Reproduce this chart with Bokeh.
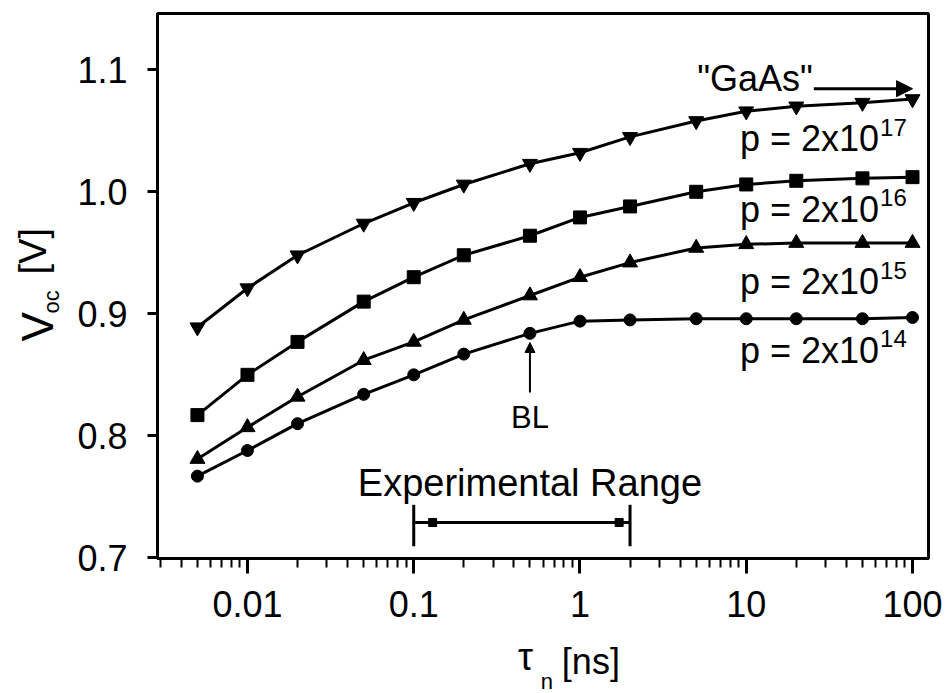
import math
from bokeh.plotting import figure
from bokeh.layouts import row, column
from bokeh.models import Range1d, FixedTicker, Label, Arrow, NormalHead
from bokeh.embed import file_html
from bokeh.resources import INLINE

# ---------------- data ----------------
tau_ns = [0.005, 0.01, 0.02, 0.05, 0.1, 0.2, 0.5, 1, 2, 5, 10, 20, 50, 100]
voc_p2e14 = [0.767, 0.788, 0.810, 0.834, 0.850, 0.867, 0.884, 0.894, 0.895, 0.896, 0.896, 0.896, 0.896, 0.897]
voc_p2e15 = [0.781, 0.807, 0.832, 0.862, 0.877, 0.895, 0.915, 0.930, 0.942, 0.954, 0.957, 0.958, 0.958, 0.958]
voc_p2e16 = [0.817, 0.850, 0.877, 0.910, 0.930, 0.948, 0.964, 0.979, 0.988, 1.000, 1.006, 1.009, 1.011, 1.012]
voc_p2e17 = [0.889, 0.921, 0.948, 0.974, 0.991, 1.006, 1.023, 1.032, 1.045, 1.058, 1.066, 1.070, 1.073, 1.076]

series_markers = ["circle", "triangle", "square", "inverted_triangle"]
series_sizes = [12, 15, 13, 15]
series_exponents = ["14", "15", "16", "17"]
series_label_y = [0.8615, 0.9175, 0.9770, 1.0345]

x_tick_values = [0.01, 0.1, 1, 10, 100]
x_tick_labels = ["0.01", "0.1", "1", "10", "100"]
y_tick_values = [0.7, 0.8, 0.9, 1.0, 1.1]
y_tick_labels = ["0.7", "0.8", "0.9", "1.0", "1.1"]

exp_range = [0.1, 2]          # experimental range of tau_n [ns]
exp_range_y = 0.729
exp_cap = [0.7095, 0.7435]
exp_marks_x = [0.13, 1.72]
bl_tau = 0.5                  # BL position
bl_arrow_y = [0.8355, 0.8765]
gaas_arrow = [25.5, 100]
gaas_y = 1.0845

FONT = "Liberation Sans"
BLACK = "#000000"


def boff(size_px):
    # empirical correction of the rendered alphabetic baseline
    return 0.3 * size_px


W_YT = 70     # width of the y-title strip
H_XT = 60     # height of the x-title strip
W_MAIN = 949 - W_YT
H_MAIN = 693 - H_XT

p = figure(width=W_MAIN, height=H_MAIN, x_axis_type="log",
           x_range=Range1d(0.002876, 124.8), y_range=Range1d(0.6995, 1.1461),
           output_backend="svg", toolbar_location=None,
           min_border_left=157 - W_YT, min_border_right=21,
           min_border_top=13, min_border_bottom=H_MAIN - 558)
p.background_fill_color = "white"
p.border_fill_color = "white"
p.outline_line_color = BLACK
p.outline_line_width = 3
p.xgrid.visible = False
p.ygrid.visible = False

# x axis
xa = p.xaxis[0]
x_minor = [m * 10.0 ** e for e in range(-3, 2) for m in range(2, 10)]
xa.ticker = FixedTicker(ticks=x_tick_values, minor_ticks=x_minor)
xa.major_label_overrides = dict(zip(x_tick_values, x_tick_labels))
xa.major_label_text_font = FONT
xa.major_label_text_font_size = "36px"
xa.major_label_text_color = BLACK
xa.major_label_standoff = 17
xa.axis_line_width = 3
xa.axis_line_color = BLACK
xa.major_tick_line_width = 3
xa.major_tick_line_color = BLACK
xa.minor_tick_line_width = 2
xa.minor_tick_line_color = BLACK
xa.major_tick_out = 15
xa.major_tick_in = 0
xa.minor_tick_out = 9
xa.minor_tick_in = 0

# y axis
ya = p.yaxis[0]
ya.ticker = FixedTicker(ticks=y_tick_values, minor_ticks=[])
ya.major_label_overrides = dict(zip(y_tick_values, y_tick_labels))
ya.major_label_text_font = FONT
ya.major_label_text_font_size = "36px"
ya.major_label_text_color = BLACK
ya.major_label_standoff = 20
ya.axis_line_width = 3
ya.axis_line_color = BLACK
ya.major_tick_line_width = 3
ya.major_tick_line_color = BLACK
ya.major_tick_out = 10
ya.major_tick_in = 0
ya.minor_tick_line_color = None

# series
all_series = [voc_p2e14, voc_p2e15, voc_p2e16, voc_p2e17]
for vals, mk, sz in zip(all_series, series_markers, series_sizes):
    p.line(tau_ns, vals, line_color=BLACK, line_width=3)
    p.scatter(tau_ns, vals, marker=mk, size=sz, fill_color=BLACK, line_color=BLACK)


def data_label(x, y, text, size, align, yoff=0.0, xoff=0.0):
    p.add_layout(Label(x=x, y=y, text=text, text_align=align, x_offset=xoff,
                       y_offset=yoff + boff(size), text_baseline="alphabetic",
                       text_font=FONT, text_font_size=f"{size}px", text_color=BLACK))


# series labels  p = 2x10^n
lab_x = 63.8
for ey, ex in zip(series_label_y, series_exponents):
    data_label(lab_x, ey, "p = 2x10", 36, "right", xoff=-1)
    data_label(lab_x, ey, ex, 24, "left", yoff=15)

# "GaAs" + arrow
data_label(gaas_arrow[0], gaas_y, '"GaAs"', 36, "right", yoff=-1, xoff=-1)
p.add_layout(Arrow(end=NormalHead(size=16, fill_color=BLACK, line_color=BLACK),
                   x_start=gaas_arrow[0], y_start=gaas_y, x_end=gaas_arrow[1], y_end=gaas_y,
                   line_width=3, line_color=BLACK))

# BL arrow
p.add_layout(Arrow(end=NormalHead(size=10, fill_color=BLACK, line_color=BLACK),
                   x_start=bl_tau, y_start=bl_arrow_y[0], x_end=bl_tau, y_end=bl_arrow_y[1],
                   line_width=2, line_color=BLACK))
data_label(bl_tau, 0.8075, "BL", 31, "center")

# experimental range
data_label(bl_tau, 0.752, "Experimental Range", 38, "center")
p.line(exp_range, [exp_range_y, exp_range_y], line_color=BLACK, line_width=3)
p.segment(x0=exp_range, y0=[exp_cap[0]] * 2, x1=exp_range, y1=[exp_cap[1]] * 2,
          line_color=BLACK, line_width=3)
p.scatter(exp_marks_x, [exp_range_y] * 2, marker="square", size=8,
          fill_color=BLACK, line_color=BLACK)


# ---------------- axis-title strips (pixel coordinates) ----------------
def text_strip(w, h):
    f = figure(width=w, height=h, x_range=Range1d(0, w), y_range=Range1d(0, h),
               output_backend="svg", toolbar_location=None,
               x_axis_location=None, y_axis_location=None,
               min_border=0, min_border_left=0, min_border_right=0,
               min_border_top=0, min_border_bottom=0)
    f.outline_line_color = None
    f.background_fill_color = "white"
    f.border_fill_color = "white"
    f.xgrid.visible = False
    f.ygrid.visible = False
    return f


def strip_label(f, x, y, text, size, angle=0.0):
    if angle == 0.0:
        y = y + boff(size)
    else:
        x = x - boff(size)
    f.add_layout(Label(x=x, y=y, text=text, angle=angle, text_align="left",
                       text_baseline="alphabetic", text_font=FONT,
                       text_font_size=f"{size}px", text_color=BLACK))


xt = text_strip(W_MAIN, H_XT)
strip_label(xt, 481 - W_YT, 693 - 668, "\u03c4", 38)
strip_label(xt, 507 - W_YT, 693 - 688, "n", 22)
strip_label(xt, 531 - W_YT, 693 - 672, "[ns]", 36)

yt = text_strip(W_YT, 693)
rot = math.pi / 2
strip_label(yt, 50, 693 - 341, "V", 44, angle=rot)
strip_label(yt, 58, 693 - 313, "oc", 22, angle=rot)
strip_label(yt, 44, 693 - 274, "[V]", 38, angle=rot)

layout = row(yt, column(p, xt))
open("out.html", "w").write(file_html(layout, INLINE))
